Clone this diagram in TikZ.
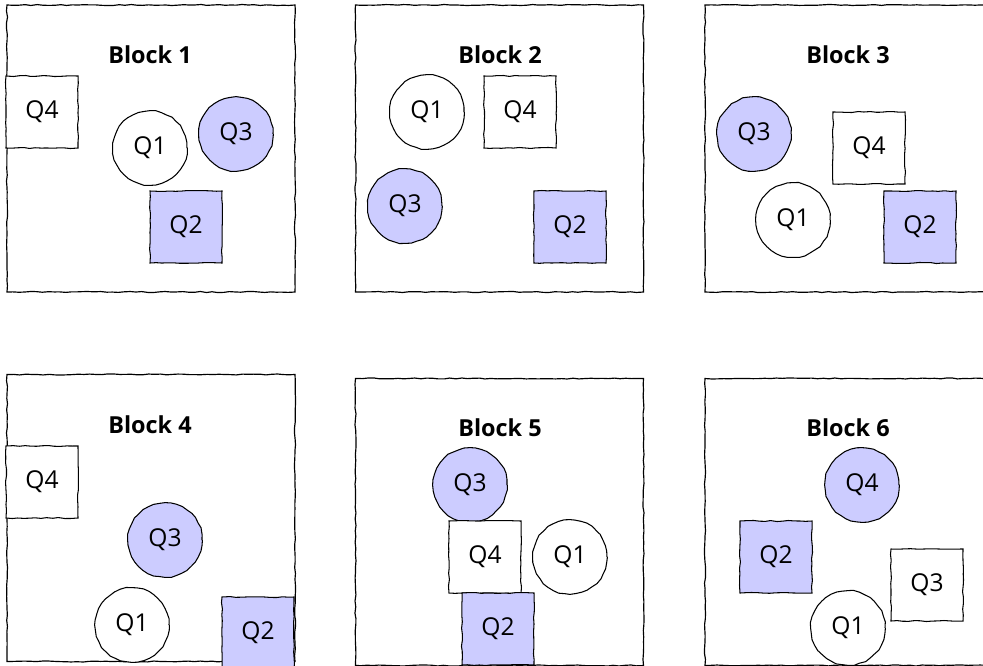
\documentclass[tikz,border=0pt]{standalone}
\usepackage{fontspec}
\setmainfont{Open Sans}
\usepackage{tikz}
\usetikzlibrary{decorations.pathmorphing}
\definecolor{qblue}{HTML}{CCCCFF}

\begin{document}
\begin{tikzpicture}[
    x=0.03cm, y=-0.03cm,
    wobbly/.style={decorate, decoration={random steps, segment length=5pt, amplitude=0.45pt}},
    frame/.style={draw, wobbly, line width=1pt, minimum width=8.64cm, minimum height=8.61cm, inner sep=0pt},
    title/.style={font=\fontsize{20}{24}\selectfont\bfseries},
    qsq/.style={draw, wobbly, line width=0.9pt, fill=white, minimum size=2.16cm, inner sep=0pt, font=\fontsize{21}{25}\selectfont},
    qcirc/.style={draw, wobbly, circle, line width=0.9pt, fill=white, minimum size=2.22cm, inner sep=0pt, font=\fontsize{21}{25}\selectfont},
    shaded/.style={fill=qblue},
]
    \pgfmathsetseed{7}
    \useasboundingbox (0,0) rectangle (983,665);
    \clip (0,0) rectangle (983,665);

    % frames
    \node[frame] (blk1) at (151,148.5) {};
    \node[frame] (blk2) at (499.5,148.5) {};
    \node[frame] (blk3) at (849,148.5) {};
    \node[frame] (blk4) at (151,518) {};
    \node[frame] (blk5) at (499.5,522) {};
    \node[frame] (blk6) at (849,522) {};

    % titles
    \node[title] (t1) at (150,55) {Block 1};
    \node[title] (t2) at (500,55) {Block 2};
    \node[title] (t3) at (848,55) {Block 3};
    \node[title] (t4) at (150,425) {Block 4};
    \node[title] (t5) at (500,428) {Block 5};
    \node[title] (t6) at (848,428) {Block 6};

    % block 1
    \node[qsq] (b1q4) at (42,112) {Q4};
    \node[qcirc] (b1q1) at (150,148) {Q1};
    \node[qcirc, shaded] (b1q3) at (236,134) {Q3};
    \node[qsq, shaded] (b1q2) at (186,227) {Q2};

    % block 2
    \node[qcirc] (b2q1) at (427,112) {Q1};
    \node[qsq] (b2q4) at (520,112) {Q4};
    \node[qcirc, shaded] (b2q3) at (405,206) {Q3};
    \node[qsq, shaded] (b2q2) at (570,227) {Q2};

    % block 3
    \node[qcirc, shaded] (b3q3) at (754,134) {Q3};
    \node[qsq] (b3q4) at (869,148) {Q4};
    \node[qcirc] (b3q1) at (793,220) {Q1};
    \node[qsq, shaded] (b3q2) at (920,227) {Q2};

    % block 4
    \node[qsq] (b4q4) at (42,482) {Q4};
    \node[qcirc, shaded] (b4q3) at (165,540) {Q3};
    \node[qcirc] (b4q1) at (132,625) {Q1};
    \node[qsq, shaded] (b4q2) at (258,633) {Q2};

    % block 5
    \node[qcirc, shaded] (b5q3) at (470,485) {Q3};
    \node[qsq] (b5q4) at (485,557) {Q4};
    \node[qcirc] (b5q1) at (570,557) {Q1};
    \node[qsq, shaded] (b5q2) at (498,629) {Q2};

    % block 6
    \node[qcirc, shaded] (b6q4) at (862,485) {Q4};
    \node[qsq, shaded] (b6q2) at (776,557) {Q2};
    \node[qsq] (b6q3) at (927,585) {Q3};
    \node[qcirc] (b6q1) at (848,628) {Q1};
\end{tikzpicture}
\end{document}
